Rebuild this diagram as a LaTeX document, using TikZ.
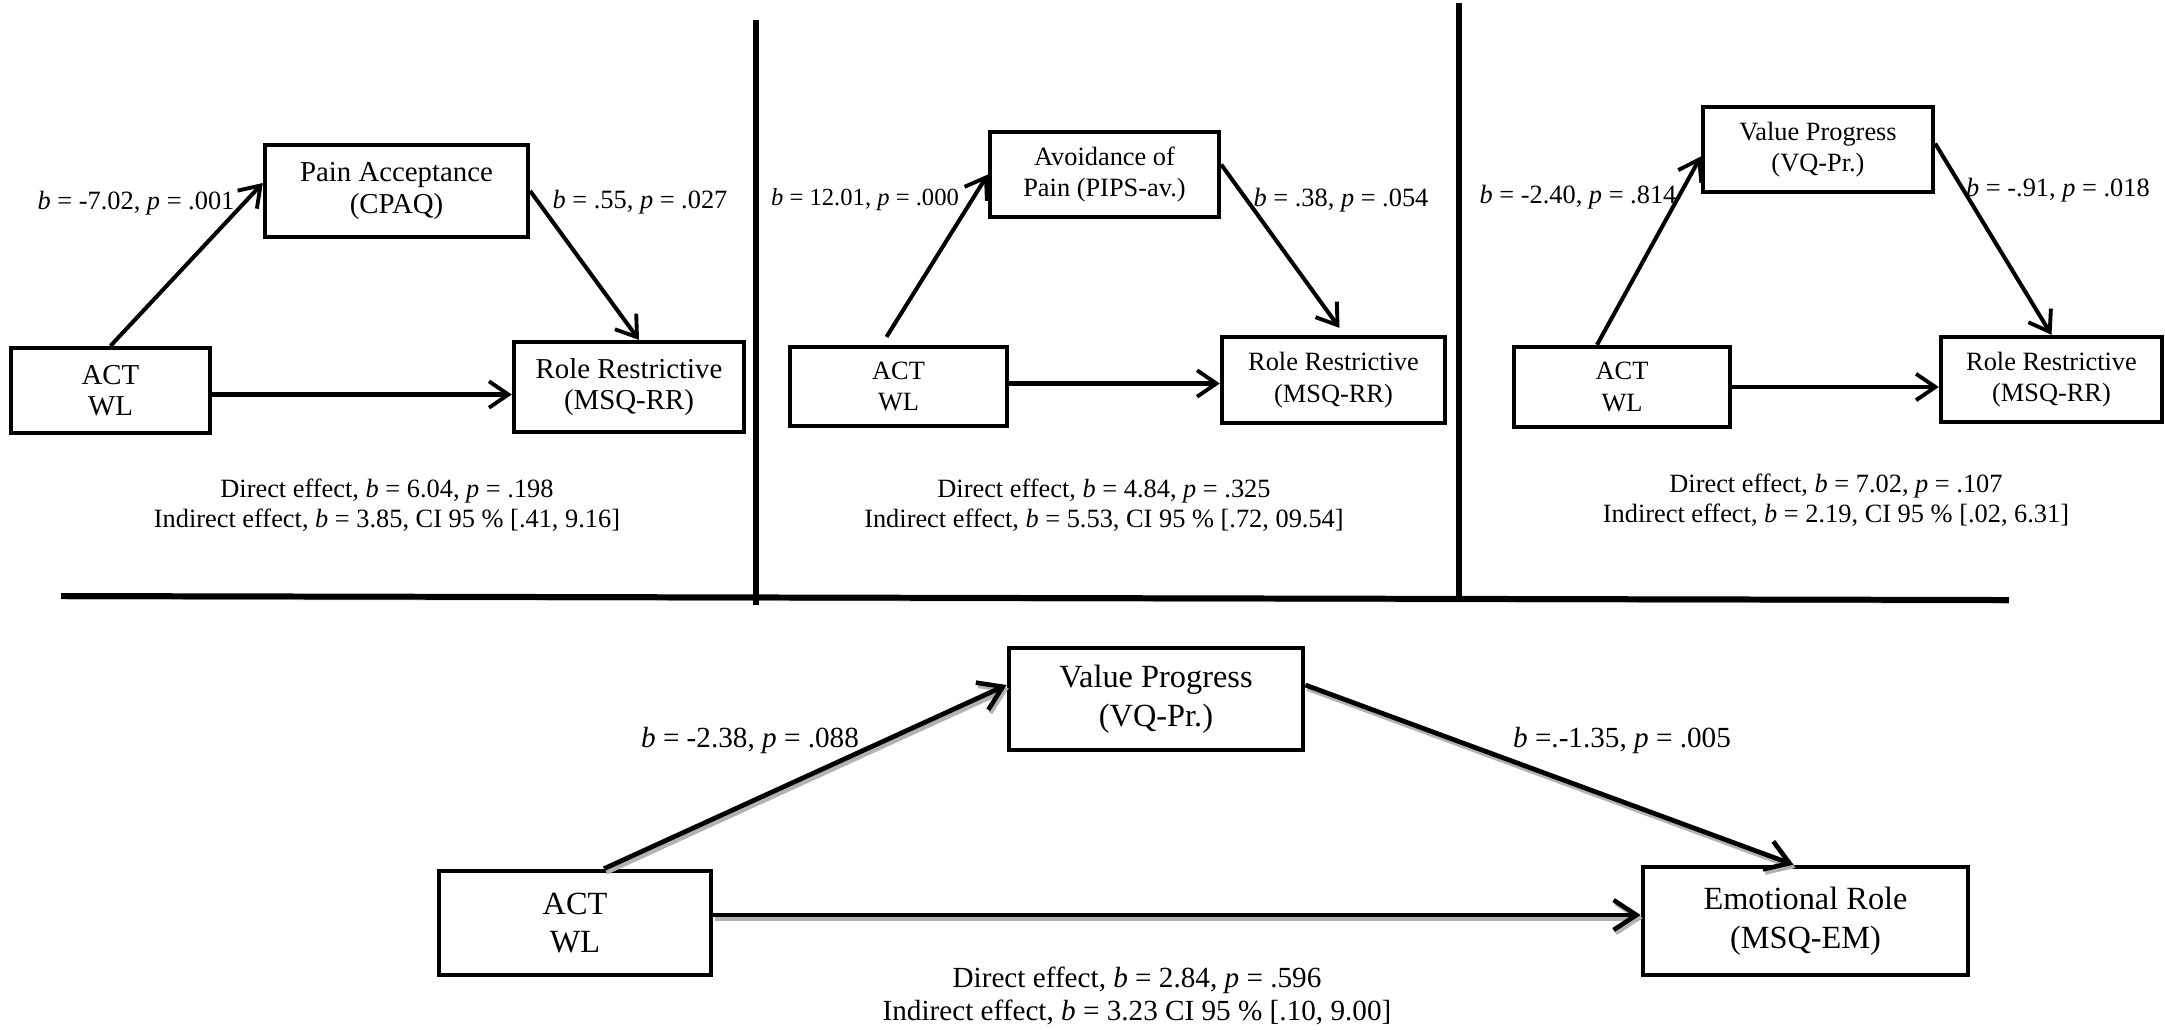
\documentclass[tikz,border=0pt]{standalone}
\usepackage{fontspec}
\setmainfont{Liberation Serif}
\usetikzlibrary{arrows.meta}

\tikzset{
  varbox/.style={draw, line width=1.2pt, align=center, inner sep=0pt},
  smallfont/.style={font=\fontsize{8.2}{9}\selectfont},
  bigfont/.style={font=\fontsize{9.2}{11}\selectfont},
  coef/.style={inner sep=0pt, font=\fontsize{7.5}{9}\selectfont},
  bigcoef/.style={inner sep=0pt, font=\fontsize{8.3}{9.4}\selectfont},
  effarrow/.style={-{Straight Barb[length=5.5pt,width=7.5pt,line width=1.1pt]}, line width=1.15pt},
  bigarrow/.style={-{Straight Barb[length=6.5pt,width=8.5pt,line width=1.3pt]}, line width=1.35pt,
    preaction={draw=black!30, line width=1.6pt, transform canvas={shift={(0.6pt,-0.9pt)}}}},
  divider/.style={line width=1.7pt, line cap=rect}
}

\newcommand{\bb}{\textit{b}}
\newcommand{\pp}{\textit{p}}

\begin{document}
\begin{tikzpicture}[x=0.01cm,y=-0.01cm]
\useasboundingbox (0,0) rectangle (2165,1029);

%dividing lines
\draw[divider, preaction={draw=black!25, transform canvas={shift={(0.8pt,-0.8pt)}}}] (64,596) -- (2006,600);
\draw[divider] (756,23) -- (756,602);
\draw[divider] (1459,6) -- (1459,593);

%panel 1
\node[varbox, smallfont, minimum width=2.63cm, minimum height=0.92cm] (pa) at (396.5,191) {Pain Acceptance\\(CPAQ)};
\node[varbox, smallfont, minimum width=1.99cm, minimum height=0.85cm] (act1) at (110.5,390.5) {ACT\\WL};
\node[varbox, smallfont, minimum width=2.30cm, minimum height=0.90cm] (rr1) at (629,387) {Role Restrictive\\(MSQ-RR)};
\draw[effarrow] (act1.north) -- ([yshift=0.08cm]pa.west);
\draw[effarrow] (pa.east) -- ([xshift=0.1cm]rr1.north);
\draw[effarrow] ([yshift=-0.04cm]act1.east) -- ([yshift=-0.04cm]act1.east -| rr1.west);
\node[coef] (a1) at (136,203) {\bb{} = -7.02, \pp{} = .001};
\node[coef] (b1) at (640,202) {\bb{} = .55, \pp{} = .027};
\node[coef, align=center, font=\fontsize{7.5}{8.6}\selectfont] (e1) at (387,505) {Direct effect, \bb{} = 6.04, \pp{} = .198\\Indirect effect, \bb{} = 3.85, CI 95 \% [.41, 9.16]};

%panel 2
\node[varbox, coef, minimum width=2.29cm, minimum height=0.85cm] (av) at (1104.5,174.5) {Avoidance of\\Pain (PIPS-av.)};
\node[varbox, coef, minimum width=2.17cm, minimum height=0.79cm] (act2) at (898.5,386.5) {ACT\\WL};
\node[varbox, coef, minimum width=2.23cm, minimum height=0.86cm] (rr2) at (1333.5,380) {Role Restrictive\\(MSQ-RR)};
\draw[effarrow] ([xshift=-0.12cm,yshift=0.08cm]act2.north) -- (av.west);
\draw[effarrow] ([yshift=0.1cm]av.east) -- ([xshift=0.06cm,yshift=0.07cm]rr2.north);
\draw[effarrow] ([yshift=0.03cm]act2.east) -- ([yshift=0.03cm]act2.east -| rr2.west);
\node[coef, font=\fontsize{7}{8}\selectfont] (a2) at (865,200) {\bb{} = 12.01, \pp{} = .000};
\node[coef] (b2) at (1341,200) {\bb{} = .38, \pp{} = .054};
\node[coef, align=center, font=\fontsize{7.5}{8.6}\selectfont] (e2) at (1104,505) {Direct effect, \bb{} = 4.84, \pp{} = .325\\Indirect effect, \bb{} = 5.53, CI 95 \% [.72, 09.54]};

%panel 3
\node[varbox, coef, minimum width=2.30cm, minimum height=0.85cm] (vp3) at (1818,149.5) {Value Progress\\(VQ-Pr.)};
\node[varbox, coef, minimum width=2.16cm, minimum height=0.80cm] (act3) at (1622,387) {ACT\\WL};
\node[varbox, coef, minimum width=2.21cm, minimum height=0.85cm] (rr3) at (2051.5,379.5) {Role Restrictive\\(MSQ-RR)};
\draw[effarrow] ([xshift=-0.25cm]act3.north) -- ([yshift=-0.07cm]vp3.west);
\draw[effarrow] ([yshift=0.06cm]vp3.east) -- (rr3.north);
\draw[effarrow] (act3.east) -- (act3.east -| rr3.west);
\node[coef] (a3) at (1578,197) {\bb{} = -2.40, \pp{} = .814};
\node[coef] (b3) at (2058,190) {\bb{} = -.91, \pp{} = .018};
\node[coef, align=center, font=\fontsize{7.5}{8.6}\selectfont] (e3) at (1836,500) {Direct effect, \bb{} = 7.02, \pp{} = .107\\Indirect effect, \bb{} = 2.19, CI 95 \% [.02, 6.31]};

%bottom panel
\node[varbox, bigfont, line width=1.3pt, minimum width=2.94cm, minimum height=1.02cm] (vp4) at (1156,699) {Value Progress\\(VQ-Pr.)};
\node[varbox, bigfont, line width=1.3pt, minimum width=2.72cm, minimum height=1.04cm] (act4) at (575,923) {ACT\\WL};
\node[varbox, bigfont, line width=1.3pt, minimum width=3.25cm, minimum height=1.08cm] (em) at (1805.5,921) {Emotional Role\\(MSQ-EM)};
\draw[bigarrow] ([xshift=0.29cm]act4.north) -- ([yshift=0.14cm]vp4.west);
\draw[bigarrow] ([yshift=0.14cm]vp4.east) -- ([xshift=-0.12cm]em.north);
\draw[bigarrow] ([yshift=0.08cm]act4.east) -- ([yshift=0.08cm]act4.east -| em.west);
\node[bigcoef] (a4) at (750,740) {\bb{} = -2.38, \pp{} = .088};
\node[bigcoef] (b4) at (1622,740) {\bb{} =.-1.35, \pp{} = .005};
\node[bigcoef, align=center] (e4) at (1137,996) {Direct effect, \bb{} = 2.84, \pp{} = .596\\Indirect effect, \bb{} = 3.23 CI 95 \% [.10, 9.00]};
\end{tikzpicture}
\end{document}
